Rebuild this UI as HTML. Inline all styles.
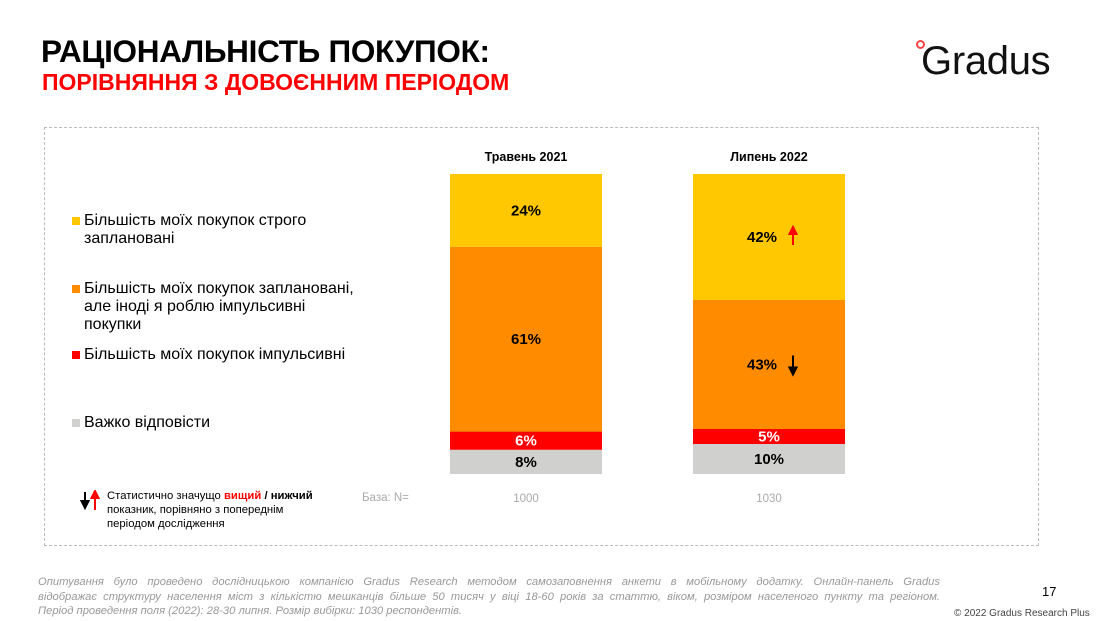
<!DOCTYPE html>
<html><head><meta charset="utf-8">
<style>
body{margin:0;width:1103px;height:621px;background:#fff;position:relative;overflow:hidden;font-family:"Liberation Sans",sans-serif;}
.abs{position:absolute;}
.leg{position:absolute;left:72px;font-size:16px;color:#000;line-height:18px;}
.sw{position:absolute;left:-0px;width:8px;height:8px;}
.fl{position:absolute;left:38px;width:902px;font-size:11.2px;color:#999;font-style:italic;text-align:justify;text-align-last:justify;white-space:nowrap;}
</style></head><body>
<div class="abs" style="left:41px;top:33px;font-size:31.5px;font-weight:bold;letter-spacing:-0.3px;">РАЦІОНАЛЬНІСТЬ ПОКУПОК:</div>
<div class="abs" style="left:42px;top:69px;font-size:23px;font-weight:bold;color:#f00;">ПОРІВНЯННЯ З ДОВОЄННИМ ПЕРІОДОМ</div>
<div class="abs" style="left:921px;top:39px;font-size:40px;color:#111;letter-spacing:-0.3px;">Gradus</div>
<div class="abs" style="left:916px;top:40px;width:5px;height:5px;border-radius:50%;border:2.5px solid #f44;"></div>
<div class="abs" style="left:44px;top:127px;width:993px;height:417px;border:1px dashed #bbb;"></div>

<div class="leg" style="top:212px;left:84px"><span class="sw" style="left:-12px;top:5px;background:#FFC800"></span>Більшість моїх покупок строго<br>заплановані</div>
<div class="leg" style="top:280px;left:84px"><span class="sw" style="left:-12px;top:5px;background:#FF8C00"></span>Більшість моїх покупок заплановані,<br>але іноді я роблю імпульсивні<br>покупки</div>
<div class="leg" style="top:346px;left:84px"><span class="sw" style="left:-12px;top:5px;background:#FF0000"></span>Більшість моїх покупок імпульсивні</div>
<div class="leg" style="top:414px;left:84px"><span class="sw" style="left:-12px;top:5px;background:#D0D0CE"></span>Важко відповісти</div>

<div class="abs" style="left:107px;top:489px;font-size:11.3px;line-height:14px;">Статистично значущо <b style="color:#f00">вищий</b> <b>/ нижчий</b><br>показник, порівняно з попереднім<br>періодом дослідження</div>
<svg class="abs" style="left:80px;top:490px" width="24" height="24">
<path d="M5 2V14M1.5 11L5 18L8.5 11Z" stroke="#000" stroke-width="2" fill="#000"/>
<path d="M15 20V8M11.5 8L15 1L18.5 8Z" stroke="#f00" stroke-width="2" fill="#f00"/></svg>
<div class="abs" style="left:362px;top:492px;font-size:11.5px;color:#aaa;">База: N=</div>

<svg id="chart" class="abs" style="left:0;top:0" width="1103" height="621"></svg>

<div>
<div class="fl" style="top:576px">Опитування було проведено дослідницькою компанією Gradus Research методом самозаповнення анкети в мобільному додатку. Онлайн-панель Gradus</div>
<div class="fl" style="top:591px">відображає структуру населення міст з кількістю мешканців більше 50 тисяч у віці 18-60 років за статтю, віком, розміром населеного пункту та регіоном.</div>
<div class="fl" style="top:605px;text-align-last:left">Період проведення поля (2022): 28-30 липня. Розмір вибірки: 1030 респондентів.</div>
</div>
<div class="abs" style="left:1042px;top:584px;font-size:13px;">17</div>
<div class="abs" style="left:954px;top:608px;font-size:10px;color:#444;">© 2022 Gradus Research Plus</div>

<script>
const categories = ["Травень 2021", "Липень 2022"];
const bases = ["1000", "1030"];
const strictlyPlanned = [24, 42];
const plannedImpulsive = [61, 43];
const impulsive = [6, 5];
const hardToSay = [8, 10];
const arrows = [[null, null, null, null], ["up", "down", null, null]];

const svg = document.getElementById('chart');
const NS = 'http://www.w3.org/2000/svg';
const barX = [450, 693], barW = 152, top0 = 174, bottom0 = 474;
const series = [
  {vals: hardToSay, color: '#D0D0CE', txt: '#000', name: 'hard-to-say'},
  {vals: impulsive, color: '#FF0000', txt: '#fff', name: 'impulsive'},
  {vals: plannedImpulsive, color: '#FF8C00', txt: '#000', name: 'planned-impulsive'},
  {vals: strictlyPlanned, color: '#FFC800', txt: '#000', name: 'strictly-planned'}
];
function mk(tag, attrs) { const e = document.createElementNS(NS, tag); for (const k in attrs) e.setAttribute(k, attrs[k]); svg.appendChild(e); return e; }
categories.forEach((c, i) => {
  const total = series.reduce((s, se) => s + se.vals[i], 0);
  const scale = v => v / total * (bottom0 - top0);
  let y = bottom0;
  const t = mk('text', {x: barX[i] + barW / 2, y: 161, 'text-anchor': 'middle', 'font-size': 12.5, 'font-weight': 'bold', 'font-family': 'Liberation Sans'});
  t.textContent = c;
  
  
  const b = mk('text', {x: barX[i] + barW / 2, y: 502, 'text-anchor': 'middle', 'font-size': 11.5, fill: '#aaa', 'font-family': 'Liberation Sans'});
  b.textContent = bases[i];
  
  
  series.forEach((se, si) => {
    const h = scale(se.vals[i]);
    y -= h;
    const r = mk('rect', {x: barX[i], y: y, width: barW, height: h, fill: se.color});
    
    
    const lx = barX[i] + barW / 2 + (arrows[i][3 - si] ? -7 : 0);
    const l = mk('text', {x: lx, y: y + h / 2 + 5, 'text-anchor': 'middle', 'font-size': 15, 'font-weight': 'bold', fill: se.txt, 'font-family': 'Liberation Sans'});
    l.textContent = se.vals[i] + '%';
    
    
    const a = arrows[i][3 - si];
    if (a) {
      const ax = lx + 31, cy = y + h / 2;
      const col = a === 'up' ? '#f00' : '#000';
      const p = a === 'up'
        ? `M${ax} ${cy + 8}V${cy - 3}M${ax - 3.5} ${cy - 3}L${ax} ${cy - 10}L${ax + 3.5} ${cy - 3}Z`
        : `M${ax} ${cy - 9}V${cy + 3}M${ax - 3.5} ${cy + 3}L${ax} ${cy + 10}L${ax + 3.5} ${cy + 3}Z`;
      const ar = mk('path', {d: p, stroke: col, 'stroke-width': 2, fill: col});
      
      
    }
  });
});
</script>
</body></html>
